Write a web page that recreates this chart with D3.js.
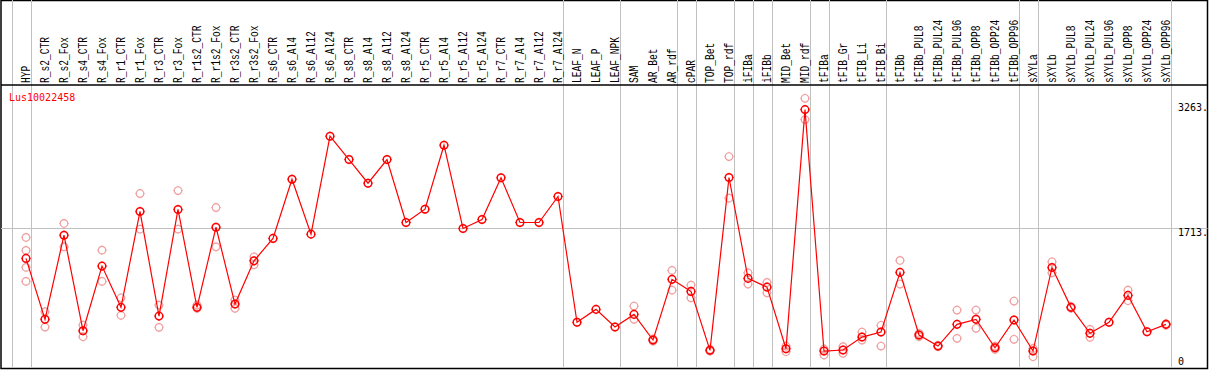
<!DOCTYPE html>
<html>
<head>
<meta charset="utf-8">
<script src="https://cdn.jsdelivr.net/npm/d3@7"></script>
<style>
  html, body { margin: 0; padding: 0; background: #fff; }
  svg { display: block; }
  text { font-family: "DejaVu Sans Mono", "Liberation Mono", monospace; }
  .col-label { font-family: "Liberation Mono", "DejaVu Sans Mono", monospace; }
</style>
</head>
<body>
<svg id="chart" width="1209" height="370"></svg>
<script>
// ── Data ──────────────────────────────────────────────
const geneName = "Lus10022458";

const categories = [
  "HYP","R_s2_CTR","R_s2_Fox","R_s4_CTR","R_s4_Fox","R_r1_CTR","R_r1_Fox","R_r3_CTR","R_r3_Fox",
  "R_r1s2_CTR","R_r1s2_Fox","R_r3s2_CTR","R_r3s2_Fox","R_s6_CTR","R_s6_Al4","R_s6_Al12","R_s6_Al24",
  "R_s8_CTR","R_s8_Al4","R_s8_Al12","R_s8_Al24","R_r5_CTR","R_r5_Al4","R_r5_Al12","R_r5_Al24",
  "R_r7_CTR","R_r7_Al4","R_r7_Al12","R_r7_Al24","LEAF_N","LEAF_P","LEAF_NPK","SAM","AR_Bet","AR_rdf",
  "cPAR","TOP_Bet","TOP_rdf","iFIBa","iFIBb","MID_Bet","MID_rdf","tFIBa","tFIB_Gr","tFIB_Li","tFIB_Bi",
  "tFIBb","tFIBb_PUL8","tFIBb_PUL24","tFIBb_PUL96","tFIBb_OPP8","tFIBb_OPP24","tFIBb_OPP96",
  "sXYLa","sXYLb","sXYLb_PUL8","sXYLb_PUL24","sXYLb_PUL96","sXYLb_OPP8","sXYLb_OPP24","sXYLb_OPP96"
];

// mean expression per sample
const means = [
  1336, 583, 1623, 442, 1241, 731, 1916, 623, 1941,
  731, 1722, 772, 1306, 1583, 2315, 1636, 2846,
  2558, 2265, 2558, 1780, 1944, 2735, 1706, 1817,
  2333, 1780, 1780, 2101, 546, 706, 488, 644, 327, 1077,
  928, 200, 2336, 1089, 981, 220, 3175, 191, 204, 364, 426,
  1163, 389, 253, 521, 583, 232, 574,
  191, 1224, 731, 410, 546, 879, 430, 521
];

// individual replicates per sample
const replicates = [
  [1595,1435,1225,1052], [677,488], [1768,1479], [512,368], [1438,1052], [849,632], [2138,1698], [759,484], [2175,1698],
  [759,719], [1965,1479], [821,719], [1356,1257], [], [], [], [],
  [], [], [], [], [], [], [], [],
  [], [], [], [], [], [], [], [747,583], [340,315], [1188,944],
  [1006,849], [210,190], [2595,2080], [1158,1019], [1039,911], [253,183], [3315,3052], [216,142], [245,163], [426,327], [509,253],
  [1311,1019], [410,370], [260,245], [698,348], [698,472], [212,250], [809,336],
  [224,121], [1294,1158], [740,720], [459,360], [], [944,813], [], [530,510]
];

// group separators: drawn after these sample indices (-1 = before first)
const groupBreaks = [-1, 0, 28, 31, 34, 35, 37, 38, 39, 41, 42, 45, 52, 53, 60];

const axisTicks = [0, 1713, 3263];

// ── Layout ────────────────────────────────────────────
const W = 1209, H = 370;
const headerY = 85;
const svg = d3.select("#chart");

const x = d3.scalePoint().domain(categories).range([26, 26 + 19 * (categories.length - 1)]);
const step = x.step();
const y = d3.scaleLinear().domain([0, 3263]).range([366.5, 102.5]);

// frame
svg.append("rect")
  .attr("x", 1).attr("y", 0.5).attr("width", W - 2.5).attr("height", 368)
  .attr("fill", "none").attr("stroke", "#000").attr("stroke-width", 1.5);

// group separators (full height)
svg.append("g").selectAll("line")
  .data(groupBreaks)
  .join("line")
  .attr("x1", (i) => Math.round(26 + step * i + step * 0.25) + 0.5)
  .attr("x2", (i) => Math.round(26 + step * i + step * 0.25) + 0.5)
  .attr("y1", 0).attr("y2", 368)
  .attr("stroke", "#c0c0c0").attr("stroke-width", 1);

// mid gridline
svg.append("line")
  .attr("x1", 1).attr("x2", W - 1.5)
  .attr("y1", Math.round(y(1713)) + 0.5).attr("y2", Math.round(y(1713)) + 0.5)
  .attr("stroke", "#c0c0c0").attr("stroke-width", 1);

// header separator
svg.append("line")
  .attr("x1", 1).attr("x2", W - 1.5)
  .attr("y1", headerY).attr("y2", headerY)
  .attr("stroke", "#000").attr("stroke-width", 1.5);

// column labels (vertical)
svg.append("g").selectAll("text")
  .data(categories)
  .join("text")
  .attr("class", "col-label")
  .attr("transform", (d) => `translate(${x(d) + 4},83) rotate(-90) scale(0.8,1)`)
  .attr("font-size", 12)
  .attr("fill", "#000")
  .text((d) => d);

// gene name
svg.append("text")
  .attr("x", 9).attr("y", 100.5)
  .attr("font-size", 10)
  .attr("fill", "#ff0000")
  .text(geneName);

// right-hand value labels
svg.append("g").selectAll("text")
  .data(axisTicks)
  .join("text")
  .attr("x", 1178)
  .attr("y", (v) => Math.min(y(v) + 8, 365))
  .attr("font-size", 10)
  .attr("fill", "#000")
  .text((v) => v === 0 ? "0" : v + ".");

// ── Marks ─────────────────────────────────────────────
function marker(g, r, tick) {
  g.append("circle").attr("r", r).attr("fill", "none");
  g.append("path")
    .attr("d", `M0,${-r - tick}V${-r + 0.5}M0,${r - 0.5}V${r + tick}M${-r - tick},0H${-r + 0.5}M${r - 0.5},0H${r + tick}`)
    .attr("fill", "none")
    .attr("stroke-width", 0.8);
}

// replicate points
const repData = [];
replicates.forEach((reps, i) => reps.forEach((v) => repData.push({ cat: categories[i], v })));

svg.append("g")
  .attr("stroke", "#f0a0a0").attr("stroke-width", 1.2)
  .selectAll("g")
  .data(repData)
  .join("g")
  .attr("transform", (d) => `translate(${x(d.cat)},${y(d.v)})`)
  .each(function() { marker(d3.select(this), 3.8, 1); });

// mean line
const line = d3.line()
  .x((d, i) => x(categories[i]))
  .y((d) => y(d));

svg.append("path")
  .datum(means)
  .attr("d", line)
  .attr("fill", "none")
  .attr("stroke", "#ff0000")
  .attr("stroke-width", 1.2);

// mean points
svg.append("g")
  .attr("stroke", "#ff0000").attr("stroke-width", 1.5)
  .selectAll("g")
  .data(means)
  .join("g")
  .attr("transform", (d, i) => `translate(${x(categories[i])},${y(d)})`)
  .each(function() { marker(d3.select(this), 3.8, 1); });
</script>
</body>
</html>
